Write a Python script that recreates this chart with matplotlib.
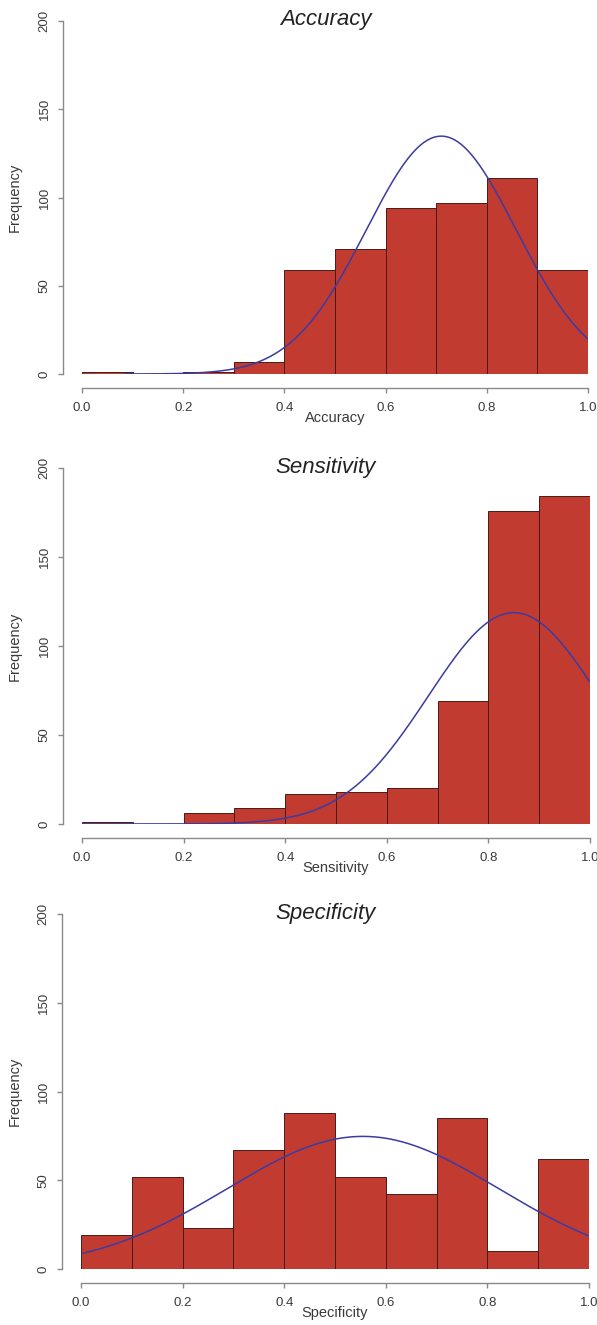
import numpy as np
import matplotlib
matplotlib.use("Agg")
import matplotlib.pyplot as plt

# --- data ---
bin_edges = [0.0, 0.1, 0.2, 0.3, 0.4, 0.5, 0.6, 0.7, 0.8, 0.9, 1.0]
acc_counts = [1, 0, 1, 7, 59, 71, 94, 97, 111, 59]
sens_counts = [1, 0, 6, 9, 17, 18, 20, 69, 176, 184]
spec_counts = [19, 52, 23, 67, 88, 52, 42, 85, 10, 62]

# fitted normal (mean, sd) for each measure, curve start
acc_fit = (0.71, 0.148, 0.085)
sens_fit = (0.85, 0.168, 0.0)
spec_fit = (0.555, 0.267, 0.0)

names = ["Accuracy", "Sensitivity", "Specificity"]
xticks = [0.0, 0.2, 0.4, 0.6, 0.8, 1.0]
yticks = [0, 50, 100, 150, 200]

W, H = 597, 1325
# plot region of each panel in pixels: left, right, top (y=200), bottom (y=0)
boxes = [(82, 588, 21, 374), (82, 590, 468, 824), (81, 589, 914, 1269)]

plt.rcParams['font.family'] = ['Liberation Sans', 'DejaVu Sans']
bar_col = '#C13B30'
edge_col = '#4a1a14'
line_col = '#3b3ba3'
axis_col = '#8a8a8a'
text_col = '#3a3a3a'

fig = plt.figure(figsize=(W / 100, H / 100), dpi=100)

def fx(px):
    return px / W

def fy(py):
    return 1 - py / H

def dnorm(x, m, s):
    return np.exp(-0.5 * ((x - m) / s) ** 2) / (s * np.sqrt(2 * np.pi))

for name, counts, fit, box in zip(names, [acc_counts, sens_counts, spec_counts],
                                  [acc_fit, sens_fit, spec_fit], boxes):
    l, r, t, b = box
    ax = fig.add_axes([fx(l), fy(b), fx(r) - fx(l), fy(t) - fy(b)])
    ax.bar(bin_edges[:-1], counts, width=0.1, align='edge', color=bar_col,
           edgecolor=edge_col, linewidth=0.7, zorder=2)
    m, s, x0 = fit
    xs = np.linspace(x0, 1.0, 300)
    n = sum(counts)
    ax.plot(xs, n * 0.1 * dnorm(xs, m, s), color=line_col, lw=1.1, zorder=3)

    ax.set_xlim(0, 1)
    ax.set_ylim(0, 200)
    for sp in ['top', 'right']:
        ax.spines[sp].set_visible(False)
    ax.spines['left'].set_position(('outward', 14))
    ax.spines['bottom'].set_position(('outward', 10))
    ax.spines['left'].set_bounds(0, 200)
    ax.spines['bottom'].set_bounds(0, 1)
    for sp in ['left', 'bottom']:
        ax.spines[sp].set_color(axis_col)
        ax.spines[sp].set_linewidth(1.0)
    ax.set_xticks(xticks)
    ax.set_xticklabels(["%.1f" % v for v in xticks])
    ax.set_yticks(yticks)
    ax.set_yticklabels([str(v) for v in yticks], rotation=90, va='center')
    ax.tick_params(colors=axis_col, labelcolor=text_col, labelsize=9.5,
                   length=3.5, width=1.0)
    ax.tick_params(axis='x', pad=7)
    ax.tick_params(axis='y', pad=5)

    fig.text(fx(326), fy(t - 1), name, ha='center', va='center',
             fontsize=16, style='italic', color='#222222')
    fig.text(fx(15), fy((t + b) / 2), "Frequency", rotation=90, ha='center',
             va='center', fontsize=10.5, color=text_col)
    fig.text(fx((l + r) / 2), fy(b + 44), name, ha='center', va='center',
             fontsize=10.5, color=text_col)

fig.savefig("out.png", dpi=100)
